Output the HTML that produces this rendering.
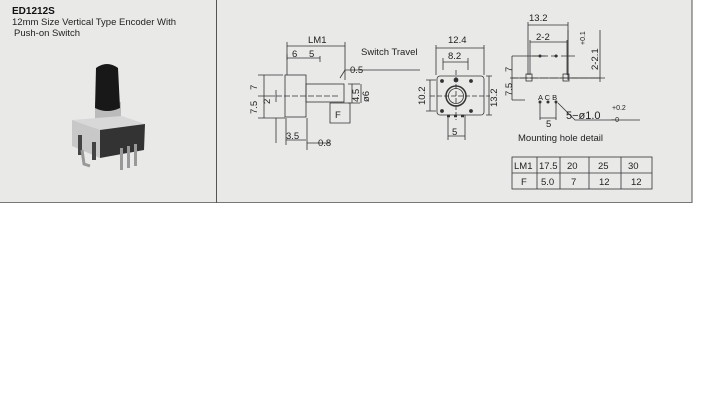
<!DOCTYPE html>
<html><head><style>
html,body{margin:0;padding:0;background:#fff;width:705px;height:416px;overflow:hidden}
svg{display:block;font-family:"Liberation Sans",sans-serif}
</style></head><body>
<svg width="705" height="416" viewBox="0 0 705 416">
<rect x="0" y="0" width="692" height="203" fill="#e9e9e8"/>
<line x1="692" y1="0" x2="692" y2="203" stroke="#555" stroke-width="1"/>
<line x1="0" y1="202.5" x2="692" y2="202.5" stroke="#777" stroke-width="1"/>
<line x1="216.5" y1="0" x2="216.5" y2="203" stroke="#555" stroke-width="1"/>
<text x="12" y="14" font-size="10" font-weight="bold" fill="#111">ED1212S</text>
<text x="12" y="25" font-size="9.5" fill="#222">12mm Size Vertical Type Encoder With</text>
<text x="14" y="36" font-size="9.5" fill="#222">Push-on Switch</text>
<!-- photo -->
<rect x="95" y="102" width="26" height="30" fill="#bbb"/>
<rect x="93" y="133" width="29" height="6" fill="#999"/>
<path d="M96 68 Q107 60 118 68 L120 108 Q107 114 95 108 Z" fill="#181818"/>
<path d="M72 120 L122 116 L145 124 L100 130 Z" fill="#d8d8d8"/>
<path d="M72 120 L100 130 L100 158 L72 146 Z" fill="#c8c8c8"/>
<path d="M100 130 L145 124 L144 150 L100 158 Z" fill="#333"/>
<rect x="78" y="135" width="4" height="20" fill="#444"/>
<rect x="92" y="142" width="4" height="18" fill="#444"/>
<rect x="120" y="148" width="3" height="22" fill="#999"/>
<rect x="127" y="146" width="3" height="22" fill="#999"/>
<rect x="134" y="144" width="3" height="22" fill="#999"/>
<path d="M82 150 L84 164 L90 166" stroke="#999" stroke-width="3" fill="none"/>
<g stroke="#333" stroke-width="0.8" fill="none">
<!-- side view -->
<path d="M287 42 V75 M345 42 V80 M287 46 H345"/>
<path d="M287 54 V60 M320 56 V62 M287 58 H320"/>
<rect x="285" y="75" width="21" height="42"/>
<rect x="306" y="84" width="38" height="18"/>
<path d="M276 96 H340" stroke-dasharray="6 2"/>
<path d="M258 75 H283 M258 96 H275 M258 118 H285 M264 75 V118"/>
<path d="M276 90 V102"/>
<path d="M276 118 V143 M286 118 V145 M307 118 V150"/>
<path d="M286 140 H306 M307 143 H330"/>
<path d="M330 103 H350 V123 H330 Z"/>
<path d="M340 78 L345 70 H420"/>
<path d="M348 84 H360 M348 103 H360 M352 84 V103 M361 84 V103"/>
<!-- front view -->
<path d="M436 45 V75 M484 45 V75 M436 48 H484 M443 58 V70 M468 58 V70 M443 62 H468"/>
<rect x="437" y="76" width="47" height="39" rx="3"/>
<circle cx="456" cy="96" r="10" stroke-width="1.5"/>
<circle cx="456" cy="96" r="7.5"/>
<path d="M430 96 H490 M456 70 V120" stroke-dasharray="5 2"/>
<path d="M426 80 H436 M426 111 H436 M430 80 V111"/>
<path d="M486 76 H492 M486 115 H492 M489 76 V115"/>
<path d="M448 115 V140 M465 115 V140 M448 136 H465"/>
<circle cx="442" cy="81" r="1.5" fill="#333"/><circle cx="471" cy="81" r="1.5" fill="#333"/>
<circle cx="442" cy="111" r="1.5" fill="#333"/><circle cx="471" cy="111" r="1.5" fill="#333"/>
<circle cx="456" cy="80" r="2" fill="#333"/>
<path d="M447 116 h3 M454 116 h3 M461 116 h3" stroke-width="2.5"/>
<!-- mounting -->
<path d="M528 22 V75 M568 22 V75 M528 25 H568 M530 40 V75 M567 40 V75 M530 42 H567"/>
<path d="M512 56 H545 M512 78 H600 M512 100 H525 M512 56 V100"/>
<path d="M532 56 H548" />
<path d="M551 56 H558 M561 56 H575"/>
<path d="M510 78 H605" stroke-dasharray="8 2"/>
<rect x="526" y="74" width="6" height="7"/><rect x="563" y="74" width="6" height="7"/>
<path d="M568 30 V80 M600 30 V82 M572 78 H600"/>
<path d="M540 103 V120 M556 103 V120 M540 118 H556"/>
<path d="M558 103 L575 120 H640"/>
<!-- table -->
<rect x="512" y="157" width="140" height="32"/>
<path d="M512 173 H652 M537 157 V189 M560 157 V189 M589 157 V189 M621 157 V189"/>
</g>
<g fill="#333"><circle cx="540" cy="56" r="1.5"/><circle cx="556" cy="56" r="1.5"/>
<circle cx="540" cy="102" r="1.5"/><circle cx="548" cy="102" r="1.5"/><circle cx="556" cy="102" r="1.5"/></g>
<g font-size="9.5" fill="#222">
<text x="308" y="43">LM1</text>
<text x="292" y="57">6</text><text x="309" y="57">5</text>
<text x="361" y="55">Switch  Travel</text>
<text x="350" y="73">0.5</text>
<text x="335" y="118">F</text>
<text x="286" y="139">3.5</text>
<text x="318" y="146">0.8</text>
<text x="448" y="43">12.4</text>
<text x="448" y="59">8.2</text>
<text x="452" y="135">5</text>
<text x="529" y="21">13.2</text>
<text x="536" y="40">2-2</text>
<text x="546" y="127">5</text>
<text x="566" y="119" font-size="11">5−ø1.0</text><text x="611" y="122" font-size="7">−0</text><text x="612" y="110" font-size="7">+0.2</text>
<text x="538" y="100" font-size="7.5">A C B</text>
<text x="518" y="141">Mounting  hole  detail</text>
<text x="514" y="169">LM1</text><text x="539" y="169">17.5</text><text x="567" y="169">20</text><text x="598" y="169">25</text><text x="628" y="169">30</text>
<text x="521" y="185">F</text><text x="541" y="185">5.0</text><text x="571" y="185">7</text><text x="599" y="185">12</text><text x="631" y="185">12</text>
</g>
<g font-size="9.5" fill="#222">
<text transform="translate(257,90) rotate(-90)">7</text>
<text transform="translate(257,114) rotate(-90)">7.5</text>
<text transform="translate(270,104) rotate(-90)">2</text>
<text transform="translate(359,102) rotate(-90)">4.5</text>
<text transform="translate(369,102) rotate(-90)">ø6</text>
<text transform="translate(425,105) rotate(-90)">10.2</text>
<text transform="translate(497,107) rotate(-90)">13.2</text>
<text transform="translate(512,72) rotate(-90)">7</text>
<text transform="translate(512,96) rotate(-90)">7.5</text>
<text transform="translate(598,70) rotate(-90)">2-2.1</text>
<text transform="translate(585,45) rotate(-90)" font-size="7">+0.1</text>
</g>
</svg>
</body></html>
